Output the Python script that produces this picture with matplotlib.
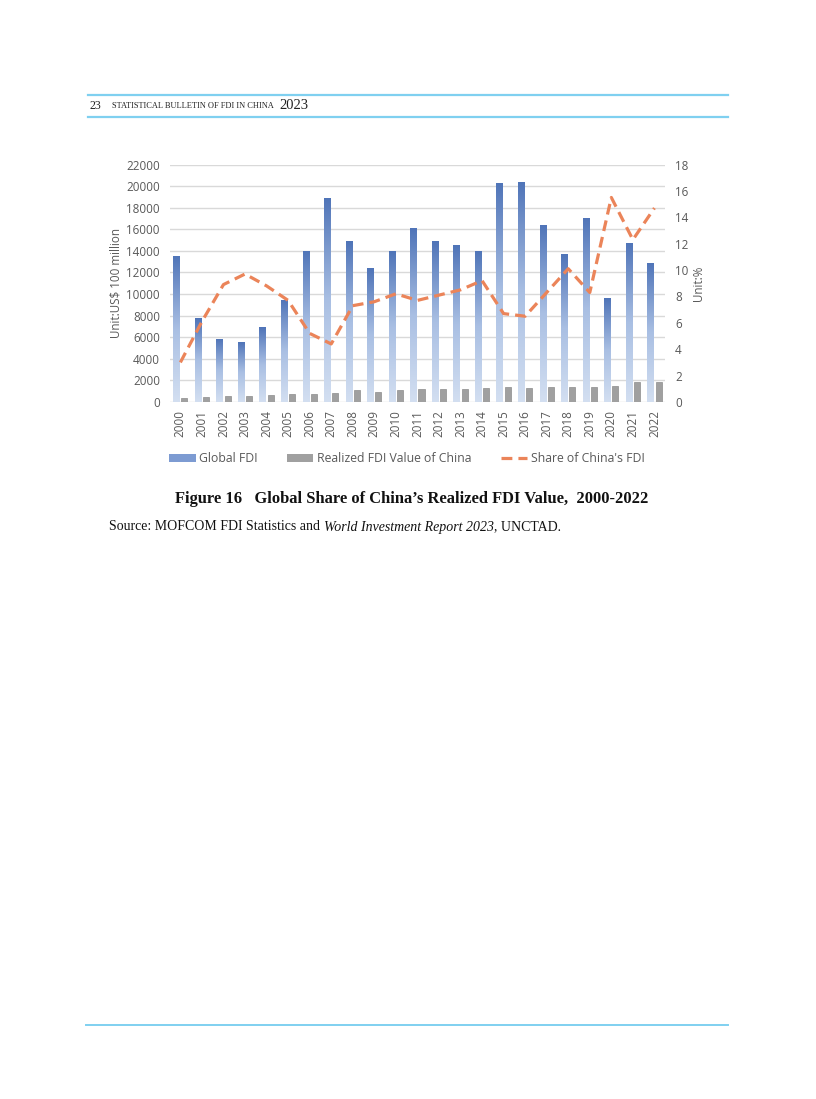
import numpy as np
import matplotlib
matplotlib.use('Agg')
import matplotlib.pyplot as plt
from matplotlib.colors import LinearSegmentedColormap
from matplotlib.lines import Line2D
from matplotlib.patches import Patch

years = [str(y) for y in range(2000, 2023)]
global_fdi = [13560, 7740, 5880, 5540, 6920, 9450, 14000, 18900, 14890, 12400, 13970,
              16100, 14910, 14530, 14010, 20300, 20420, 16400, 13700, 17050, 9610, 14750, 12890]
china_fdi = [407, 469, 527, 535, 606, 724, 727, 835, 1083, 940, 1147,
             1239, 1210, 1239, 1285, 1356, 1337, 1363, 1383, 1412, 1493, 1809, 1891]
share = [3.0, 6.1, 8.9, 9.7, 8.8, 7.7, 5.2, 4.4, 7.3, 7.6, 8.2,
         7.7, 8.1, 8.5, 9.2, 6.7, 6.5, 8.3, 10.1, 8.3, 15.5, 12.3, 14.7]

W, H = 816, 1099
fig = plt.figure(figsize=(W / 100, H / 100), dpi=100)

def fx(px):
    return px / W

def fy(py):
    return 1 - py / H

tick_font = 'Open Sans'
tick_col = '#595959'
line_blue = '#7fd0f0'
serif = 'Liberation Serif'

# header
for yy in (95, 117):
    fig.add_artist(Line2D([fx(88), fx(728)], [fy(yy), fy(yy)], color=line_blue, lw=1.6))
fig.add_artist(Line2D([fx(86), fx(728)], [fy(1025), fy(1025)], color=line_blue, lw=1.4))
fig.text(fx(89), fy(106), '23', fontsize=8.6, family=serif, va='center', color='#222222')
fig.text(fx(112), fy(106.5), 'STATISTICAL BULLETIN OF FDI IN CHINA', fontsize=6.0,
         family=serif, va='center', color='#222222')
fig.text(fx(279), fy(105.5), '2023', fontsize=10.5, family=serif, va='center', color='#222222')

# chart
left, right, top, bottom = 169.6, 665.2, 164.5, 402
ax = fig.add_axes([fx(left), fy(bottom), fx(right - left), (bottom - top) / H])
x = np.arange(len(years))
bw = 0.28
off = 0.19

cmap = LinearSegmentedColormap.from_list('fdi', ['#d3dff1', '#a9bfe3', '#4f74b8'])
grad = np.linspace(0, 1, 256).reshape(-1, 1)
bars = ax.bar(x - off, global_fdi, bw, color='none', zorder=2)
for b in bars:
    bx, by = b.get_x(), b.get_y()
    bwid, bh = b.get_width(), b.get_height()
    im = ax.imshow(grad, cmap=cmap, aspect='auto', origin='lower',
                   extent=[bx, bx + bwid, by, by + bh], zorder=2)
    im.set_clip_path(b)

ax.bar(x + off, china_fdi, bw, color='#a0a0a0', edgecolor='#8c8c8c', lw=0.5, zorder=2)

ax.set_xlim(-0.5, len(years) - 0.5)
ax.set_ylim(0, 22000)
ax.set_yticks(np.arange(0, 22001, 2000))
ax.set_xticks(x)
ax.set_xticklabels(years, rotation=90)
ax.grid(axis='y', color='#d9d9d9', lw=1.0, zorder=0)
ax.set_axisbelow(True)
for s in ax.spines.values():
    s.set_visible(False)
ax.tick_params(length=0, labelsize=8.4, labelcolor=tick_col, pad=7)
ax.tick_params(axis='x', pad=6)
for lab in ax.get_xticklabels() + ax.get_yticklabels():
    lab.set_family(tick_font)
ax.set_ylabel('Unit:US$ 100 million', fontsize=8.4, color=tick_col, family=tick_font)
ax.yaxis.set_label_coords((123 - left) / (right - left), 0.5)

ax2 = ax.twinx()
ax2.plot(x, share, color='#eb8459', lw=2.3, dashes=(3.4, 1.9), zorder=3)
ax2.set_ylim(0, 18)
ax2.set_yticks(np.arange(0, 19, 2))
for s in ax2.spines.values():
    s.set_visible(False)
ax2.tick_params(length=0, labelsize=8.4, labelcolor=tick_col, pad=7)
for lab in ax2.get_yticklabels():
    lab.set_family(tick_font)
ax2.set_ylabel('Unit:%', fontsize=8.4, color=tick_col, family=tick_font)
ax2.yaxis.set_label_coords((692 - left) / (right - left), 0.5)

handles = [Patch(facecolor='#7d9bd2', edgecolor='none'),
           Patch(facecolor='#a0a0a0', edgecolor='none'),
           Line2D([], [], color='#eb8459', lw=2.3, dashes=(3.4, 1.9))]
labels = ['Global FDI', 'Realized FDI Value of China', "Share of China's FDI"]
fig.legend(handles, labels, loc='center', bbox_to_anchor=(fx(407), fy(459)), ncol=3,
           frameon=False, prop={'family': tick_font, 'size': 8.8}, handlelength=2.15,
           handleheight=0.55, handletextpad=0.3, columnspacing=2.4, labelcolor=tick_col)

# caption
fig.text(fx(412), fy(499), 'Figure 16   Global Share of China\u2019s Realized FDI Value,  2000-2022',
         ha='center', va='center', fontsize=11.9, family=serif, weight='bold',
         color='#111111')
t1 = fig.text(fx(109), fy(527), 'Source: MOFCOM FDI Statistics and ', ha='left', va='center',
              fontsize=10.0, family=serif, color='#111111')
t2 = ax.annotate('World Investment Report 2023', xy=(1, 0), xycoords=t1, va='bottom', ha='left',
                 fontsize=10.0, family=serif, style='italic', color='#111111',
                 annotation_clip=False)
ax.annotate(', UNCTAD.', xy=(1, 0), xycoords=t2, va='bottom', ha='left',
            fontsize=10.0, family=serif, color='#111111', annotation_clip=False)

fig.savefig('out.png', dpi=100)
